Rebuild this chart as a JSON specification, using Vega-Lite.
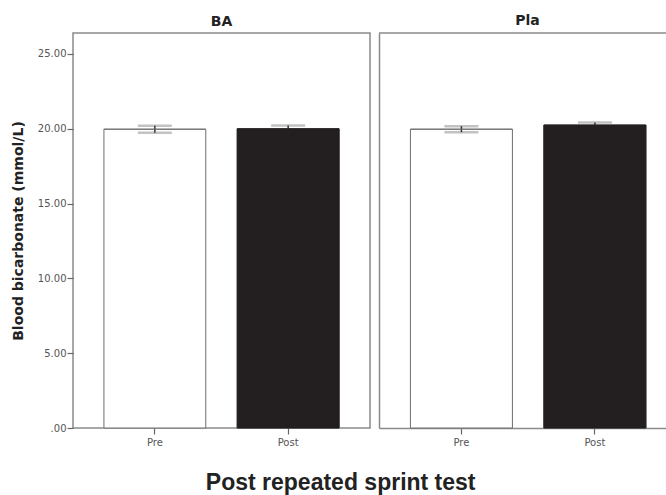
{
  "$schema": "https://vega.github.io/schema/vega-lite/v6.json",
  "background": "white",
  "padding": {"left": 10, "top": 14, "right": 0, "bottom": 0},
  "data": {
    "values": [
      {"group": "BA", "time": "Pre", "value": 19.97, "lo": 19.74, "hi": 20.2},
      {"group": "BA", "time": "Post", "value": 20.0, "lo": 19.78, "hi": 20.22},
      {"group": "Pla", "time": "Pre", "value": 19.97, "lo": 19.77, "hi": 20.17},
      {"group": "Pla", "time": "Post", "value": 20.25, "lo": 20.08, "hi": 20.42}
    ]
  },
  "title": {
    "text": "Post repeated sprint test",
    "orient": "bottom",
    "anchor": "middle",
    "frame": "bounds",
    "font": "Liberation Sans",
    "fontSize": 23,
    "fontWeight": "bold",
    "color": "#222222",
    "offset": 24,
    "dx": 2
  },
  "spacing": 7,
  "hconcat": [
    {
      "width": 297,
      "height": 395,
      "title": {"text": "BA", "frame": "group", "anchor": "middle", "font": "DejaVu Sans", "fontSize": 14, "fontWeight": "bold", "color": "#222222", "offset": 4},
      "view": {"stroke": "#8a8a8a", "strokeWidth": 1.5},
      "transform": [{"filter": "datum.group == 'BA'"}],
      "layer": [
        {
          "mark": {"type": "bar", "stroke": "#6e6e6e", "strokeWidth": 1, "fill": "white"},
          "encoding": {
            "x": {
              "field": "time", "type": "nominal", "sort": ["Pre", "Post"],
              "scale": {"paddingInner": 0.236, "paddingOuter": 0.232},
              "axis": {"title": null, "labelAngle": 0, "tickSize": 6, "labelPadding": 3, "domain": false}
            },
            "y": {
              "field": "value", "type": "quantitative",
              "title": "Blood bicarbonate (mmol/L)",
              "scale": {"domain": [0, 26.4], "nice": false},
              "axis": {
                "values": [0, 5, 10, 15, 20, 25],
                "labelExpr": "datum.value == 0 ? '.00' : format(datum.value, '.2f')",
                "domain": false,
                "tickSize": 6,
                "labelPadding": 1,
                "titlePadding": 12
              }
            },
            "fill": {
              "field": "time", "type": "nominal",
              "scale": {"domain": ["Pre", "Post"], "range": ["white", "#231f20"]},
              "legend": null
            }
          }
        },
        {
          "transform": [{"filter": "datum.time == 'Pre'"}],
          "mark": {"type": "tick", "color": "#a8a8a8", "thickness": 2.5, "size": 34},
          "encoding": {
            "x": {"field": "time", "type": "nominal", "sort": ["Pre", "Post"]},
            "y": {"field": "lo", "type": "quantitative", "title": "Blood bicarbonate (mmol/L)"}
          }
        },
        {
          "mark": {"type": "tick", "color": "#a8a8a8", "thickness": 2.5, "size": 34},
          "encoding": {
            "x": {"field": "time", "type": "nominal", "sort": ["Pre", "Post"]},
            "y": {"field": "hi", "type": "quantitative", "title": "Blood bicarbonate (mmol/L)"}
          }
        },
        {
          "mark": {"type": "rule", "color": "#333333", "strokeWidth": 1.5},
          "encoding": {
            "x": {"field": "time", "type": "nominal", "sort": ["Pre", "Post"]},
            "y": {"field": "lo", "type": "quantitative", "title": "Blood bicarbonate (mmol/L)"},
            "y2": {"field": "hi"}
          }
        },
        {
          "transform": [{"filter": "datum.time == 'Pre'"}],
          "mark": {"type": "rule", "color": "#6e6e6e", "strokeWidth": 1},
          "encoding": {
            "x": {"field": "time", "type": "nominal", "sort": ["Pre", "Post"], "bandPosition": 0},
            "x2": {"field": "time", "bandPosition": 1},
            "y": {"field": "value", "type": "quantitative", "title": "Blood bicarbonate (mmol/L)"}
          }
        },
        {
          "transform": [{"filter": "datum.time == 'Post'"}],
          "mark": {"type": "bar", "fill": "#231f20", "stroke": "#231f20", "strokeWidth": 1},
          "encoding": {
            "x": {"field": "time", "type": "nominal", "sort": ["Pre", "Post"]},
            "y": {"field": "value", "type": "quantitative", "title": "Blood bicarbonate (mmol/L)"}
          }
        }
      ]
    },
    {
      "width": 287,
      "height": 395,
      "title": {"text": "Pla", "frame": "group", "anchor": "middle", "font": "DejaVu Sans", "fontSize": 14, "fontWeight": "bold", "color": "#222222", "offset": 4, "dx": 5},
      "view": {"stroke": null},
      "transform": [{"filter": "datum.group == 'Pla'"}],
      "layer": [
        {
          "mark": {"type": "bar", "stroke": "#6e6e6e", "strokeWidth": 1},
          "encoding": {
            "x": {
              "field": "time", "type": "nominal", "sort": ["Pre", "Post"],
              "scale": {"paddingInner": 0.236, "paddingOuter": 0.193, "align": 0.61},
              "axis": {"title": null, "labelAngle": 0, "tickSize": 6, "labelPadding": 3, "domain": true, "domainColor": "#8a8a8a", "domainWidth": 1.5}
            },
            "y": {
              "field": "value", "type": "quantitative",
              "title": "Blood bicarbonate (mmol/L)",
              "scale": {"domain": [0, 26.4], "nice": false},
              "axis": {
                "title": null,
                "labels": false,
                "ticks": false,
                "domain": true,
                "domainColor": "#8a8a8a",
                "domainWidth": 1.5,
                "values": [0, 5, 10, 15, 20, 25]
              }
            },
            "fill": {
              "field": "time", "type": "nominal",
              "scale": {"domain": ["Pre", "Post"], "range": ["white", "#231f20"]},
              "legend": null
            }
          }
        },
        {
          "transform": [{"filter": "datum.time == 'Pre'"}],
          "mark": {"type": "tick", "color": "#a8a8a8", "thickness": 2.5, "size": 34},
          "encoding": {
            "x": {"field": "time", "type": "nominal", "sort": ["Pre", "Post"]},
            "y": {"field": "lo", "type": "quantitative", "title": "Blood bicarbonate (mmol/L)"}
          }
        },
        {
          "mark": {"type": "tick", "color": "#a8a8a8", "thickness": 2.5, "size": 34},
          "encoding": {
            "x": {"field": "time", "type": "nominal", "sort": ["Pre", "Post"]},
            "y": {"field": "hi", "type": "quantitative", "title": "Blood bicarbonate (mmol/L)"}
          }
        },
        {
          "mark": {"type": "rule", "color": "#333333", "strokeWidth": 1.5},
          "encoding": {
            "x": {"field": "time", "type": "nominal", "sort": ["Pre", "Post"]},
            "y": {"field": "lo", "type": "quantitative", "title": "Blood bicarbonate (mmol/L)"},
            "y2": {"field": "hi"}
          }
        },
        {
          "transform": [{"filter": "datum.time == 'Pre'"}],
          "mark": {"type": "rule", "color": "#6e6e6e", "strokeWidth": 1},
          "encoding": {
            "x": {"field": "time", "type": "nominal", "sort": ["Pre", "Post"], "bandPosition": 0},
            "x2": {"field": "time", "bandPosition": 1},
            "y": {"field": "value", "type": "quantitative", "title": "Blood bicarbonate (mmol/L)"}
          }
        },
        {
          "transform": [{"filter": "datum.time == 'Post'"}],
          "mark": {"type": "bar", "fill": "#231f20", "stroke": "#231f20", "strokeWidth": 1},
          "encoding": {
            "x": {"field": "time", "type": "nominal", "sort": ["Pre", "Post"]},
            "y": {"field": "value", "type": "quantitative", "title": "Blood bicarbonate (mmol/L)"}
          }
        },
        {
          "transform": [{"filter": "datum.time == 'Pre'"}],
          "mark": {"type": "rule", "color": "#8a8a8a", "strokeWidth": 1.5},
          "encoding": {"y": {"datum": 26.4, "type": "quantitative", "title": "Blood bicarbonate (mmol/L)"}}
        }
      ]
    }
  ],
  "resolve": {"scale": {"x": "independent", "y": "independent", "fill": "independent"}},
  "config": {
    "axis": {
      "grid": false,
      "tickColor": "#666666",
      "tickWidth": 1.2,
      "labelFont": "DejaVu Sans",
      "labelFontSize": 10,
      "labelColor": "#555555",
      "titleFont": "DejaVu Sans",
      "titleFontSize": 14,
      "titleFontWeight": "bold",
      "titleColor": "#222222"
    }
  }
}
